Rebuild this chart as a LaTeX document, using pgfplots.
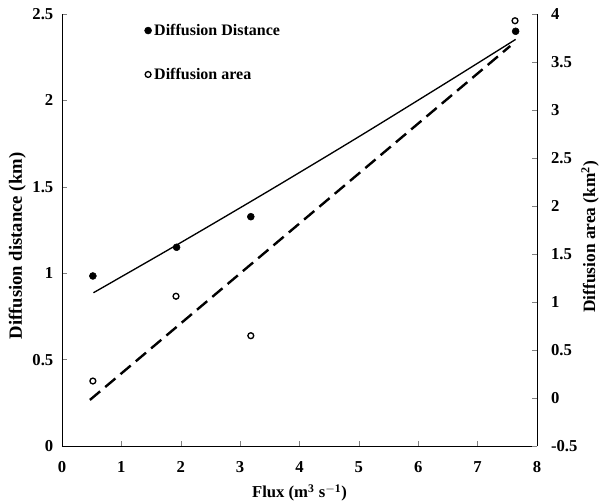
\documentclass[border=0pt]{standalone}
\usepackage{fontspec}
\setmainfont{Liberation Serif}
\usepackage{pgfplots}
\pgfplotsset{compat=1.18}
\begin{document}
\begin{tikzpicture}[x=1pt,y=1pt]
\useasboundingbox (-46.5,-40.5) rectangle (403.5,334.5);
\begin{axis}[
  at={(0,0)}, anchor=south west,
  scale only axis, width=356.25pt, height=324pt,
  xmin=0, xmax=8, ymin=0, ymax=2.5,
  axis x line*=bottom, axis y line*=left,
  tick align=inside, major tick length=4pt,
  xtick={0,1,...,8}, ytick={0,0.5,1,1.5,2,2.5},
  yticklabels={0,0.5,1,1.5,2,2.5},
  xticklabels={0,1,2,3,4,5,6,7,8},
  tick label style={font=\bfseries\fontsize{12.5}{14}\selectfont},
  xticklabel style={yshift=-8pt},
  yticklabel style={xshift=-3pt},
  every axis line/.style={line width=0.8pt},
  xlabel={\bfseries Flux (m$^{\mathbf 3}$ s$^{\mathbf{-1}}$)},
  ylabel={\bfseries Diffusion distance (km)},
  xlabel style={font=\bfseries\fontsize{12.5}{14}\selectfont, yshift=-2pt},
  ylabel style={font=\bfseries\fontsize{14}{16}\selectfont, yshift=-2pt, xshift=-12pt},
  legend style={draw=none, fill=none, at={(rel axis cs:0.165,0.99)}, anchor=north west,
    font=\bfseries\fontsize{12}{14}\selectfont, row sep=19pt},
  legend cell align=left,
  legend image code/.code={\draw[#1] plot coordinates {(0.1cm,0cm)};},
]
\addplot[only marks, mark=*, mark size=2.6pt, black] coordinates {
  (0.52,0.984) (1.93,1.15) (3.18,1.327) (7.64,2.40)
};
\addlegendentry{Diffusion Distance}
\addlegendimage{only marks, mark=o, mark size=2.2pt, line width=1pt, black}
\addlegendentry{Diffusion area}
\addplot[black, line width=1pt, smooth, forget plot] coordinates {
  (0.53,0.887) (2.0,1.177) (3.5,1.480) (5.0,1.790) (6.5,2.108) (7.64,2.353)
};
\end{axis}
\begin{axis}[
  at={(0,0)}, anchor=south west,
  scale only axis, width=356.25pt, height=324pt,
  xmin=0, xmax=8, ymin=-0.5, ymax=4,
  axis x line=none, axis y line*=right,
  tick align=inside, major tick length=4pt,
  ytick={-0.5,0,0.5,1,1.5,2,2.5,3,3.5,4},
  yticklabels={-0.5,0,0.5,1,1.5,2,2.5,3,3.5,4},
  tick label style={font=\bfseries\fontsize{12.5}{14}\selectfont},
  yticklabel style={xshift=7pt},
  every axis line/.style={line width=0.8pt},
  ylabel={\bfseries Diffusion area (km$^{\mathbf 2}$)},
  ylabel style={font=\bfseries\fontsize{13}{15}\selectfont, yshift=4pt, xshift=-5pt},
]
\addplot[only marks, mark=o, mark size=2.2pt, line width=1pt, black] coordinates {
  (0.52,0.177) (1.92,1.06) (3.18,0.649) (7.63,3.93)
};
\addplot[black, line width=1.8pt, dash pattern=on 10pt off 5pt] coordinates {
  (0.47,-0.02) (7.55,3.667)
};
\end{axis}
\end{tikzpicture}
\end{document}
